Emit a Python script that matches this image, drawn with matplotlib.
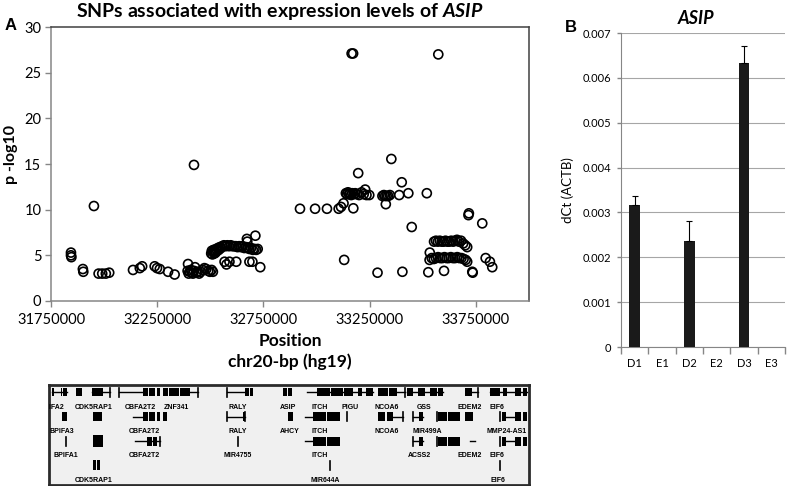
import numpy as np
import matplotlib.pyplot as plt
from matplotlib.patches import Rectangle

plt.rcParams['font.family'] = ['Lato', 'DejaVu Sans']
plt.rcParams['mathtext.fontset'] = 'custom'
plt.rcParams['mathtext.rm'] = 'Lato'
plt.rcParams['mathtext.bf'] = 'Lato:bold'
plt.rcParams['mathtext.it'] = 'Lato:italic'
plt.rcParams['mathtext.bfit'] = 'Lato:italic:bold'

# ---------------- panel A: SNP positions (bp) and -log10 p ----------------
pos_left = [31844000, 31844000, 31846000, 31900000, 31902000, 31952000,
            31974000, 31991000, 32008000, 32024000, 32136000, 32168000,
            32179000, 32238000, 32249000, 32262000, 32301000, 32332000]
logp_left = [5.3, 5.0, 4.8, 3.5, 3.2, 10.4,
             3.0, 3.0, 3.0, 3.1, 3.4, 3.6,
             3.8, 3.8, 3.6, 3.5, 3.2, 2.9]

pos_mid = [32395000, 32393000, 32398000, 32403000, 32408000, 32413000,
           32418000, 32423000, 32428000, 32434000, 32440000, 32447000,
           32455000, 32463000, 32472000, 32481000, 32490000, 32498000,
           32506000, 32512000,
           32423000,
           32504000, 32507000, 32510000, 32513000, 32516000, 32519000,
           32522000, 32525000, 32528000, 32532000, 32536000, 32540000,
           32545000, 32550000,
           32556000, 32564000, 32572000, 32580000, 32588000, 32596000,
           32604000, 32612000, 32620000, 32628000, 32636000, 32644000,
           32652000, 32660000, 32668000, 32676000, 32684000, 32692000,
           32700000, 32708000, 32716000, 32723000,
           32567000, 32576000, 32590000, 32622000, 32684000, 32698000,
           32672000, 32674000, 32712000, 32735000]
logp_mid = [4.05, 3.3, 3.0, 3.2, 3.4, 3.1,
            3.0, 3.3, 3.7, 3.1, 3.2, 3.0,
            3.2, 3.4, 3.6, 3.5, 3.3, 3.2,
            3.4, 3.2,
            14.9,
            5.2, 5.5, 5.1, 5.4, 5.6, 5.2,
            5.5, 5.3, 5.7, 5.5, 5.8, 5.6,
            5.9, 5.8,
            6.0, 6.1, 6.0, 6.1, 6.0, 6.1,
            6.0, 6.0, 6.0, 5.9, 6.0, 5.9,
            6.0, 5.8, 5.9, 5.8, 5.7, 5.8,
            5.6, 5.7, 5.6, 5.7,
            4.3, 4.0, 4.3, 4.3, 4.3, 4.3,
            6.8, 6.5, 7.15, 3.7]

pos_right = [32922000, 32993000, 33049000, 33104000, 33115000, 33127000,
             33173000, 33130000,
             33138000, 33143000, 33148000, 33153000, 33158000, 33163000,
             33168000, 33175000, 33182000, 33190000, 33200000, 33212000,
             33222000, 33235000, 33248000,
             33196000, 33229000, 33165000, 33172000, 33287000,
             33310000, 33317000, 33323000, 33330000, 33337000, 33345000,
             33389000, 33326000, 33352000, 33401000, 33432000, 33404000,
             33448000, 33519000, 33573000]
logp_right = [10.1, 10.1, 10.1, 10.1, 10.3, 10.7,
              10.15, 4.5,
              11.8, 11.7, 11.9, 11.7, 11.8, 11.6,
              11.8, 11.7, 11.8, 11.7, 11.6, 11.9,
              11.7, 11.6, 11.6,
              14.0, 12.2, 27.1, 27.1, 3.1,
              11.5, 11.6, 11.5, 11.5, 11.5, 11.6,
              11.6, 10.6, 15.55, 13.0, 11.8, 3.2,
              8.1, 11.8, 27.0]

pos_far = [33553000, 33562000, 33571000, 33580000, 33589000, 33598000,
           33607000, 33616000, 33625000, 33634000, 33643000, 33652000,
           33661000, 33670000, 33680000, 33690000, 33700000, 33709000,
           33532000, 33542000, 33552000, 33562000, 33572000, 33582000,
           33592000, 33602000, 33612000, 33622000, 33632000, 33642000,
           33652000, 33662000, 33672000, 33682000, 33692000, 33702000,
           33709000,
           33533000, 33526000, 33600000, 33717000, 33715000, 33733000,
           33735000, 33780000, 33796000, 33816000, 33827000]
logp_far = [6.5, 6.6, 6.5, 6.6, 6.5, 6.5,
            6.6, 6.5, 6.5, 6.6, 6.5, 6.6,
            6.7, 6.5, 6.6, 6.3, 6.1, 5.9,
            4.5, 4.7, 4.6, 4.7, 4.8, 4.7,
            4.7, 4.8, 4.7, 4.7, 4.8, 4.7,
            4.7, 4.8, 4.7, 4.7, 4.6, 4.5,
            4.3,
            5.3, 3.15, 3.3, 9.6, 9.4, 3.2,
            3.1, 8.5, 4.7, 4.3, 3.7]

snp_pos = pos_left + pos_mid + pos_right + pos_far
snp_logp = logp_left + logp_mid + logp_right + logp_far

pos_ticks = [31750000, 32250000, 32750000, 33250000, 33750000]
logp_ticks = [0, 5, 10, 15, 20, 25, 30]

# ---------------- gene track (Mb) ----------------
# (row, start, end)
gene_lines = [
    (0, 31.753, 31.824), (0, 31.941, 32.027), (0, 32.069, 32.182),
    (0, 32.403, 32.440), (0, 32.575, 32.661), (0, 32.950, 33.262),
    (0, 33.374, 33.412), (0, 33.421, 33.590), (0, 33.727, 33.755),
    (0, 33.811, 33.985),
    (1, 32.135, 32.182), (1, 32.575, 32.661), (1, 32.943, 32.980),
    (1, 33.356, 33.403), (1, 33.450, 33.497), (1, 33.872, 33.928),
    (2, 32.144, 32.262), (2, 32.943, 32.980), (2, 33.450, 33.497),
    (2, 33.717, 33.741), (2, 33.872, 33.928),
]
# (row, start, end, height)
gene_blocks = [
    (0, 31.753, 31.766, 8), (0, 31.795, 31.800, 8), (0, 31.808, 31.824, 8),
    (0, 31.867, 31.894, 8), (0, 31.941, 31.995, 8), (0, 32.182, 32.205, 8),
    (0, 32.212, 32.240, 8), (0, 32.246, 32.262, 8), (0, 32.276, 32.300, 8),
    (0, 32.306, 32.350, 8), (0, 32.356, 32.403, 8), (0, 32.661, 32.680, 8),
    (0, 32.684, 32.698, 8), (0, 32.838, 32.858, 8), (0, 32.864, 32.880, 8),
    (0, 32.997, 33.060, 8), (0, 33.065, 33.120, 8), (0, 33.125, 33.168, 8),
    (0, 33.191, 33.210, 8), (0, 33.229, 33.262, 8), (0, 33.285, 33.330, 8),
    (0, 33.335, 33.374, 8), (0, 33.421, 33.450, 8), (0, 33.473, 33.506, 8),
    (0, 33.529, 33.560, 8), (0, 33.565, 33.590, 8), (0, 33.694, 33.727, 8),
    (0, 33.811, 33.858, 8), (0, 33.872, 33.891, 8), (0, 33.928, 33.955, 8),
    (0, 33.965, 33.985, 8),
    (1, 31.802, 31.825, 9), (1, 31.947, 31.989, 9), (1, 32.182, 32.205, 9),
    (1, 32.212, 32.240, 9), (1, 32.246, 32.262, 9), (1, 32.276, 32.295, 9),
    (1, 32.650, 32.661, 9), (1, 32.863, 32.886, 9), (1, 32.980, 33.040, 9),
    (1, 33.046, 33.107, 9), (1, 33.285, 33.320, 9), (1, 33.326, 33.356, 9),
    (1, 33.478, 33.497, 9), (1, 33.567, 33.610, 9), (1, 33.616, 33.670, 9),
    (1, 33.694, 33.731, 9), (1, 33.866, 33.885, 9), (1, 33.928, 33.955, 9),
    (1, 33.965, 33.985, 9),
    (2, 31.946, 31.993, 12), (2, 32.200, 32.225, 9), (2, 32.230, 32.248, 9),
    (2, 32.980, 33.040, 9), (2, 33.046, 33.107, 9), (2, 33.478, 33.497, 9),
    (2, 33.567, 33.610, 9), (2, 33.616, 33.670, 9), (2, 33.866, 33.885, 9),
    (2, 33.928, 33.955, 9), (2, 33.965, 33.985, 9),
    (3, 31.946, 31.962, 10), (3, 31.966, 31.980, 10),
]
# (row, position)
gene_ticks = [
    (0, 32.027), (0, 32.069), (0, 32.440), (0, 32.575), (0, 33.412),
    (0, 33.755),
    (1, 32.575), (1, 32.661), (1, 33.140), (1, 33.403), (1, 33.450),
    (1, 33.562), (1, 33.858),
    (2, 31.819), (2, 32.262), (2, 32.628), (2, 33.450), (2, 33.562),
    (2, 33.858),
    (3, 33.060), (3, 33.858),
]
# (row, position, name)
gene_labels = [
    (0, 31.756, 'BPIFA2'), (0, 31.950, 'CDK5RAP1'), (0, 32.168, 'CBFA2T2'),
    (0, 32.340, 'ZNF341'), (0, 32.628, 'RALY'), (0, 32.863, 'ASIP'),
    (0, 33.013, 'ITCH'), (0, 33.154, 'PIGU'), (0, 33.326, 'NCOA6'),
    (0, 33.501, 'GSS'), (0, 33.717, 'EDEM2'), (0, 33.844, 'EIF6'),
    (1, 31.802, 'BPIFA3'), (1, 32.187, 'CBFA2T2'), (1, 32.628, 'RALY'),
    (1, 32.872, 'AHCY'), (1, 33.013, 'ITCH'), (1, 33.326, 'NCOA6'),
    (1, 33.515, 'MIR499A'), (1, 33.891, 'MMP24-AS1'),
    (2, 31.819, 'BPIFA1'), (2, 32.187, 'CBFA2T2'), (2, 32.628, 'MIR4755'),
    (2, 33.013, 'ITCH'), (2, 33.482, 'ACSS2'), (2, 33.717, 'EDEM2'),
    (2, 33.844, 'EIF6'),
    (3, 31.950, 'CDK5RAP1'), (3, 33.036, 'MIR644A'), (3, 33.848, 'EIF6'),
]

# ---------------- panel B: qPCR ----------------
samples = ['D1', 'E1', 'D2', 'E2', 'D3', 'E3']
dct = [0.00317, 0, 0.00236, 0, 0.00633, 0]
dct_err = [0.00019, 0, 0.00046, 0, 0.00039, 0]
dct_ticks = [0, 0.001, 0.002, 0.003, 0.004, 0.005, 0.006, 0.007]

# ---------------- figure ----------------
W, H = 787, 486
fig = plt.figure(figsize=(W / 100, H / 100), dpi=100)


def px_rect(x0, y0, x1, y1):
    return [x0 / W, 1 - y1 / H, (x1 - x0) / W, (y1 - y0) / H]


axis_grey = '#868686'

# panel A
axA = fig.add_axes(px_rect(51, 27, 529, 301))
axA.scatter(snp_pos, snp_logp, s=42, facecolors='none', edgecolors='black',
            linewidths=1.2, zorder=3)
axA.set_xlim(31750000, 34000000)
axA.set_ylim(0, 30)
axA.set_xticks(pos_ticks)
axA.set_xticklabels([str(v) for v in pos_ticks])
axA.set_yticks(logp_ticks)
axA.tick_params(direction='out', length=4, width=1, color=axis_grey,
                labelsize=10.5, pad=3)
axA.tick_params(axis='x', pad=5)
for side in ['left', 'bottom']:
    axA.spines[side].set_color(axis_grey)
for side in ['top', 'right']:
    axA.spines[side].set_color('#404040')
for sp in axA.spines.values():
    sp.set_linewidth(1.1)

fig.text(280 / W, 1 - 11 / H,
         r'SNPs associated with expression levels of $\mathbfit{ASIP}$',
         ha='center', va='center', fontsize=14, fontweight='bold')
fig.text(11 / W, 1 - 26 / H, 'A', ha='center', va='center', fontsize=12,
         fontweight='bold', family='Liberation Sans')
fig.text(11 / W, 1 - 155 / H, 'p -log10', ha='center', va='center',
         rotation=90, fontsize=11.5, fontweight='bold')
fig.text(290 / W, 1 - 341 / H, 'Position', ha='center', va='center',
         fontsize=12.5, fontweight='bold')
fig.text(290 / W, 1 - 362 / H, 'chr20-bp (hg19)', ha='center', va='center',
         fontsize=12.5, fontweight='bold')

# gene track
axT = fig.add_axes(px_rect(49, 385, 529, 485))
axT.set_xlim(31.7406, 33.9942)
axT.set_ylim(99, 0)
axT.set_facecolor('#f0f0f0')
axT.set_xticks([])
axT.set_yticks([])
for sp in axT.spines.values():
    sp.set_linewidth(2)
    sp.set_color('#2b2b2b')
row_y = [7, 31.5, 55.5, 79.5]
label_y = [22, 46, 70, 95]
for row, a, b in gene_lines:
    axT.plot([a, b], [row_y[row], row_y[row]], color='black', lw=1.0)
for row, a, b, h in gene_blocks:
    axT.add_patch(Rectangle((a, row_y[row] - h / 2), b - a, h,
                            facecolor='black', edgecolor='none'))
for row, x in gene_ticks:
    axT.plot([x, x], [row_y[row] - 4.5, row_y[row] + 4.5], color='black',
             lw=1.2)
for row, x, name in gene_labels:
    axT.text(x, label_y[row], name, ha='center', va='center', fontsize=5,
             fontweight='bold', family='Liberation Sans', clip_on=True)

# panel B
axB = fig.add_axes(px_rect(621, 33, 785, 347))
xs = np.arange(len(samples))
axB.bar(xs, dct, width=0.4, color='#1a1a1a', zorder=3)
err = np.array(dct_err)
has = err > 0
axB.errorbar(xs[has], np.array(dct)[has],
             yerr=[np.zeros(has.sum()), err[has]], fmt='none',
             ecolor='black', elinewidth=0.8, capsize=2.5, capthick=0.8,
             zorder=4)
axB.set_xlim(-0.5, len(samples) - 0.5)
axB.set_ylim(0, 0.007)
axB.set_yticks(dct_ticks)
axB.set_yticklabels(['0'] + ['%.3f' % v for v in dct_ticks[1:]])
axB.yaxis.grid(True, color='#a6a6a6', lw=0.8)
axB.set_axisbelow(True)
axB.set_xticks(xs)
axB.set_xticklabels(samples)
axB.set_xticks(np.arange(-0.5, len(samples), 1.0), minor=True)
axB.tick_params(axis='x', which='major', length=0, labelsize=8, pad=8)
axB.tick_params(axis='x', which='minor', length=5, width=1, color=axis_grey,
                direction='out')
axB.tick_params(axis='y', length=3, width=1, color=axis_grey, labelsize=8,
                direction='out', pad=4)
axB.spines['top'].set_visible(False)
axB.spines['right'].set_visible(False)
axB.spines['left'].set_color(axis_grey)
axB.spines['bottom'].set_color(axis_grey)
axB.set_ylabel('dCt (ACTB)', fontsize=9.5, labelpad=6)

fig.text(696 / W, 1 - 18 / H, 'ASIP', ha='center', va='center',
         fontsize=13, fontweight='bold', fontstyle='italic')
fig.text(571 / W, 1 - 28 / H, 'B', ha='center', va='center', fontsize=12,
         fontweight='bold', family='Liberation Sans')

fig.savefig('out.png', dpi=100)
